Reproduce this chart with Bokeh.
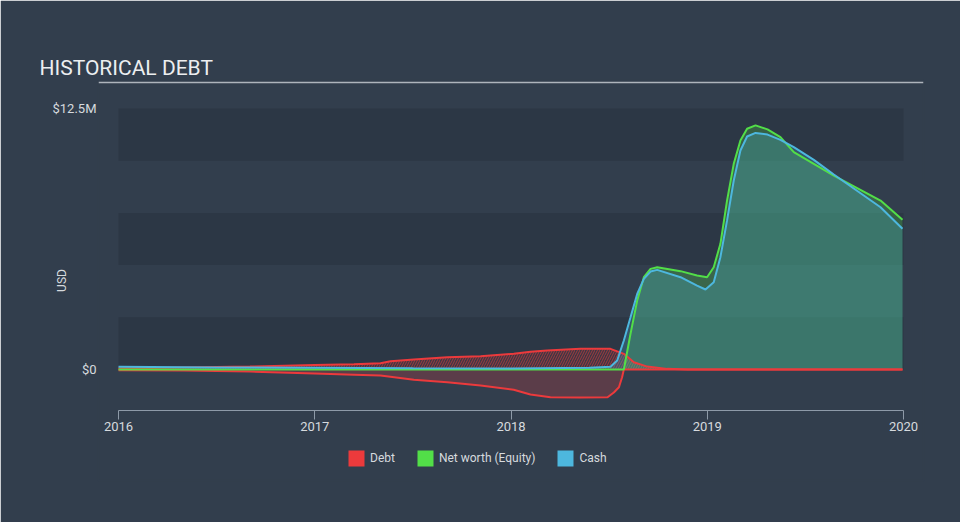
import numpy as np
from bokeh.plotting import figure
from bokeh.models import Range1d, FixedTicker, Legend, LegendItem, BoxAnnotation
from bokeh.embed import file_html
from bokeh.resources import INLINE

# ---------------- data (USD millions, x in fractional years) ----------------
debt_x = [2016.0, 2016.33, 2016.67, 2017.0, 2017.2, 2017.335, 2017.386, 2017.505, 2017.675,
          2017.845, 2018.014, 2018.1, 2018.184, 2018.354, 2018.507, 2018.575, 2018.626,
          2018.694, 2018.796, 2018.9, 2019.2, 2019.6, 2019.995]
debt = [0.05, 0.09, 0.14, 0.21, 0.25, 0.30, 0.40, 0.48, 0.59,
        0.64, 0.75, 0.85, 0.91, 0.99, 0.99, 0.75, 0.35,
        0.14, 0.03, 0.0, 0.0, 0.0, 0.0]

equity_x = [2016.0, 2016.33, 2016.67, 2017.0, 2017.2, 2017.335, 2017.505, 2017.675, 2017.845,
            2018.014, 2018.099, 2018.201, 2018.35, 2018.492, 2018.524, 2018.55, 2018.566,
            2018.575, 2018.609, 2018.643, 2018.677, 2018.711, 2018.745, 2018.864, 2018.948,
            2018.999, 2019.033, 2019.067, 2019.101, 2019.135, 2019.169, 2019.203, 2019.246,
            2019.307, 2019.373, 2019.441, 2019.543, 2019.645, 2019.883, 2019.995]
equity = [-0.03, -0.05, -0.10, -0.19, -0.25, -0.29, -0.49, -0.61, -0.77,
          -0.97, -1.20, -1.33, -1.34, -1.33, -1.10, -0.85, -0.37,
          0.0, 1.71, 3.30, 4.42, 4.82, 4.90, 4.71, 4.50,
          4.42, 4.90, 6.02, 8.10, 9.85, 10.97, 11.53, 11.69,
          11.50, 11.13, 10.41, 9.85, 9.29, 8.09, 7.17]

cash_x = [2016.0, 2016.5, 2017.0, 2017.5, 2018.0, 2018.4, 2018.507, 2018.541, 2018.575,
          2018.609, 2018.643, 2018.677, 2018.711, 2018.745, 2018.864, 2018.948, 2018.991,
          2019.033, 2019.067, 2019.101, 2019.135, 2019.169, 2019.203, 2019.246, 2019.307,
          2019.373, 2019.441, 2019.543, 2019.645, 2019.883, 2019.995]
cash = [0.13, 0.10, 0.08, 0.06, 0.05, 0.08, 0.13, 0.43, 1.39,
        2.50, 3.62, 4.34, 4.69, 4.77, 4.42, 4.02, 3.83,
        4.18, 5.38, 7.14, 9.05, 10.49, 11.16, 11.33, 11.25,
        11.00, 10.65, 10.04, 9.34, 7.77, 6.74]

year_ticks = [2016, 2017, 2018, 2019, 2020]
year_labels = ["2016", "2017", "2018", "2019", "2020"]
y_ticks = [0, 12.5]
y_labels = ["$0", "$12.5M"]
band_ticks = [0, 2.5, 5, 7.5, 10, 12.5]
series_names = ["Debt", "Net worth (Equity)", "Cash"]

# ---------------- style ----------------
BG = "#323e4d"
BAND = "#2c3745"
RED = "#ec3a3c"
GREEN = "#52de48"
BLUE = "#4db7de"
TXT = "#d6dade"
RULE = "#aeb4bc"
FONT = "Roboto"

# layout in page pixels
FL, FR = 98, 923           # frame left / right (a little wider than the data area)
DL, DR = 118, 903          # columns of 2016 and 2020
FT, FB = 80, 480           # frame top / bottom (frame also holds the rule and legend)
ZERO_PX, TOP_PX = 369, 108 # rows of $0 and $12.5M
AXIS_PX = 410              # row of the x axis line
PX_PER_M = (ZERO_PX - TOP_PX) / 12.5
YR_PER_PX = (2020 - 2016) / (DR - DL)

def v(py):
    """data value (USD M) of a pixel row"""
    return (ZERO_PX - py) / PX_PER_M

X0, X1 = 2016, 2020
Y0, Y1 = v(FB), v(FT)

p = figure(frame_width=FR - FL, frame_height=FB - FT,
           x_range=Range1d(X0 - (DL - FL) * YR_PER_PX, X1 + (FR - DR) * YR_PER_PX),
           y_range=Range1d(Y0, Y1),
           toolbar_location=None, output_backend="svg",
           min_border_left=FL, min_border_right=960 - FR,
           min_border_top=FT, min_border_bottom=522 - FB)
p.background_fill_color = BG
p.border_fill_color = BG
p.outline_line_color = BG
p.outline_line_width = 2

# title in the above panel
p.title.text = "HISTORICAL DEBT"
p.title.align = "left"
p.title.offset = 39 - FL
p.title.text_font = FONT
p.title.text_font_size = "21px"
p.title.text_font_style = "normal"
p.title.text_color = "#eceef0"
p.title.standoff = 1

# rule under the title
p.add_layout(BoxAnnotation(top=v(81.2), bottom=v(82.8), fill_color=RULE, fill_alpha=1,
                           line_color=None))

# alternating horizontal bands over the data area
p.xgrid.visible = False
p.ygrid.visible = False
p.quad(left=X0, right=X1, bottom=band_ticks[0:-1:2], top=band_ticks[1::2],
       fill_color=BAND, line_color=None)

# x axis drawn at its row inside the (taller) frame
xax = p.xaxis[0]
xax.fixed_location = v(AXIS_PX)
xax.bounds = (X0, X1)
xax.ticker = FixedTicker(ticks=year_ticks)
xax.major_label_overrides = {t: l for t, l in zip(year_ticks, year_labels)}
xax.axis_line_color = "#8e9aa8"
xax.major_tick_line_color = "#8e9aa8"
xax.major_tick_in = 0
xax.major_tick_out = 9
xax.minor_tick_line_color = None
xax.major_label_standoff = 2
xax.major_label_text_font = FONT
xax.major_label_text_font_size = "13px"
xax.major_label_text_color = TXT

p.yaxis.ticker = FixedTicker(ticks=y_ticks)
p.yaxis.major_label_overrides = {t: l for t, l in zip(y_ticks, y_labels)}
p.yaxis.axis_line_color = None
p.yaxis.major_tick_line_color = None
p.yaxis.minor_tick_line_color = None
p.yaxis.major_label_standoff = 16 - (DL - FL)
p.yaxis.major_label_text_font = FONT
p.yaxis.major_label_text_font_size = "13px"
p.yaxis.major_label_text_color = TXT
p.yaxis.axis_label = "USD"
p.yaxis.axis_label_text_font = FONT
p.yaxis.axis_label_text_font_style = "normal"
p.yaxis.axis_label_text_font_size = "12px"
p.yaxis.axis_label_text_color = TXT
p.yaxis.axis_label_standoff = -20

dx = np.array(debt_x); dy = np.array(debt)
ex = np.array(equity_x); ey = np.array(equity)
cx = np.array(cash_x); cy = np.array(cash)
e_pos = np.maximum(ey, 0)
e_neg = np.minimum(ey, 0)
zeros_d = np.zeros_like(dy); zeros_e = np.zeros_like(ey); zeros_c = np.zeros_like(cy)

# fills
p.varea(x=dx, y1=zeros_d, y2=dy, fill_color=RED, fill_alpha=0.10,
        hatch_pattern="/", hatch_color=RED, hatch_alpha=0.55, hatch_scale=5, hatch_weight=1)
p.varea(x=ex, y1=zeros_e, y2=e_neg, fill_color=RED, fill_alpha=0.22)
p.varea(x=ex, y1=zeros_e, y2=e_pos, fill_color=GREEN, fill_alpha=0.25)
p.varea(x=cx, y1=zeros_c, y2=cy, fill_color=BLUE, fill_alpha=0.25)

# lines
p.line(dx, dy, line_color=RED, line_width=2)
p.line(ex, e_neg, line_color=RED, line_width=2)
p.line(ex, e_pos, line_color=GREEN, line_width=2)
p.line(cx, cy, line_color=BLUE, line_width=2)

# legend inside the frame, below the x axis (dummy zero-height areas carry the swatches)
r_d = p.varea(x=[X0, X0], y1=[0, 0], y2=[0, 0], fill_color=RED, fill_alpha=1)
r_e = p.varea(x=[X0, X0], y1=[0, 0], y2=[0, 0], fill_color=GREEN, fill_alpha=1)
r_c = p.varea(x=[X0, X0], y1=[0, 0], y2=[0, 0], fill_color=BLUE, fill_alpha=1)
legend = Legend(items=[LegendItem(label=series_names[0], renderers=[r_d]),
                       LegendItem(label=series_names[1], renderers=[r_e]),
                       LegendItem(label=series_names[2], renderers=[r_c])],
                orientation="horizontal", location=(248, 12),
                glyph_width=20, glyph_height=20, label_standoff=4, spacing=20,
                padding=8, margin=0,
                background_fill_alpha=0, border_line_color=None,
                label_text_font=FONT, label_text_font_size="12px", label_text_color=TXT)
p.add_layout(legend, "center")

open("out.html", "w").write(file_html(p, INLINE))
